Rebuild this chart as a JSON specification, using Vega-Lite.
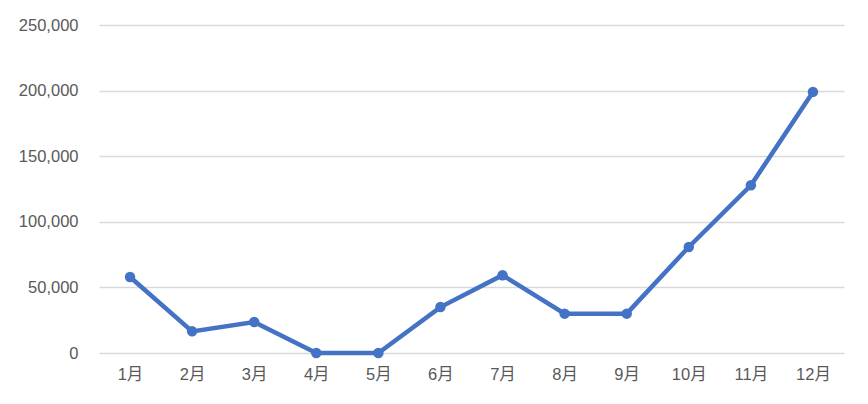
{
  "$schema": "https://vega.github.io/schema/vega-lite/v6.json",
  "width": 745,
  "height": 328,
  "autosize": {"type": "none"},
  "padding": {"left": 99, "top": 25, "right": 24, "bottom": 51},
  "background": "white",
  "data": {"values": [
    {"month": "1月", "value": 57900},
    {"month": "2月", "value": 16500},
    {"month": "3月", "value": 23600},
    {"month": "4月", "value": 0},
    {"month": "5月", "value": 0},
    {"month": "6月", "value": 35000},
    {"month": "7月", "value": 59300},
    {"month": "8月", "value": 30000},
    {"month": "9月", "value": 30000},
    {"month": "10月", "value": 80800},
    {"month": "11月", "value": 127800},
    {"month": "12月", "value": 199000}
  ]},
  "mark": {"type": "line", "color": "#4472C4", "strokeWidth": 4.5, "point": {"filled": true, "size": 110, "color": "#4472C4", "opacity": 1}},
  "encoding": {
    "x": {"field": "month", "type": "ordinal", "sort": null, "scale": {"type": "point", "padding": 0.5},
      "axis": {"title": null, "labelAngle": 0, "domain": false, "ticks": false, "grid": false, "labelPadding": 13}},
    "y": {"field": "value", "type": "quantitative", "scale": {"domain": [0, 250000], "nice": false},
      "axis": {"title": null, "values": [0, 50000, 100000, 150000, 200000, 250000], "format": ",d", "domain": false, "ticks": false, "labelPadding": 21, "gridColor": "#d9d9d9", "gridWidth": 1.3}}
  },
  "config": {
    "view": {"stroke": null},
    "axis": {"labelFont": "Liberation Sans, Noto Sans CJK SC", "labelFontSize": 16.5, "labelColor": "#595959"}
  }
}
